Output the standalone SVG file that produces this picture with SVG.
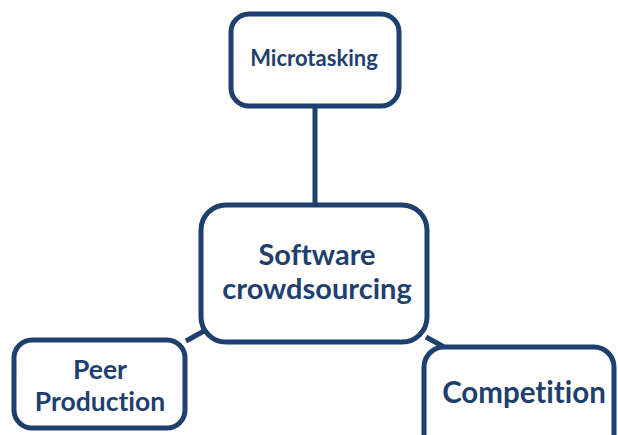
<svg xmlns="http://www.w3.org/2000/svg" width="618" height="435" viewBox="0 0 618 435">
  <style>
    .box { fill: #ffffff; stroke: #1f3f6e; stroke-width: 5; }
    .link { stroke: #1f3f6e; stroke-width: 5; fill: none; }
    .label { font-family: "Lato", "Open Sans", "Liberation Sans", sans-serif; font-weight: bold; fill: #1f3f6e; text-anchor: middle; font-variant-ligatures: none; font-feature-settings: "liga" 0, "dlig" 0; }
  </style>
  <rect width="618" height="435" fill="#ffffff"/>
  <g id="connectors">
    <line class="link" x1="315" y1="106" x2="315" y2="205"/>
    <line class="link" x1="186" y1="341" x2="204" y2="331"/>
    <line class="link" x1="426" y1="337" x2="444" y2="347"/>
  </g>
  <g id="microtasking">
    <rect class="box" x="231" y="14" width="168" height="92" rx="18"/>
    <text class="label" x="314" y="66" font-size="22">Microtasking</text>
  </g>
  <g id="software-crowdsourcing">
    <rect class="box" x="201" y="205" width="226" height="137" rx="25"/>
    <text class="label" x="317" y="265" font-size="29">Software</text>
    <text class="label" x="317" y="299" font-size="29">crowdsourcing</text>
  </g>
  <g id="peer-production">
    <rect class="box" x="14" y="340" width="171" height="88" rx="18"/>
    <text class="label" x="100" y="379" font-size="26.5">Peer</text>
    <text class="label" x="100" y="411" font-size="26.5">Production</text>
  </g>
  <g id="competition">
    <rect class="box" x="424" y="347" width="190" height="110" rx="20"/>
    <text class="label" x="524" y="403" font-size="29.5">Competition</text>
  </g>
</svg>
